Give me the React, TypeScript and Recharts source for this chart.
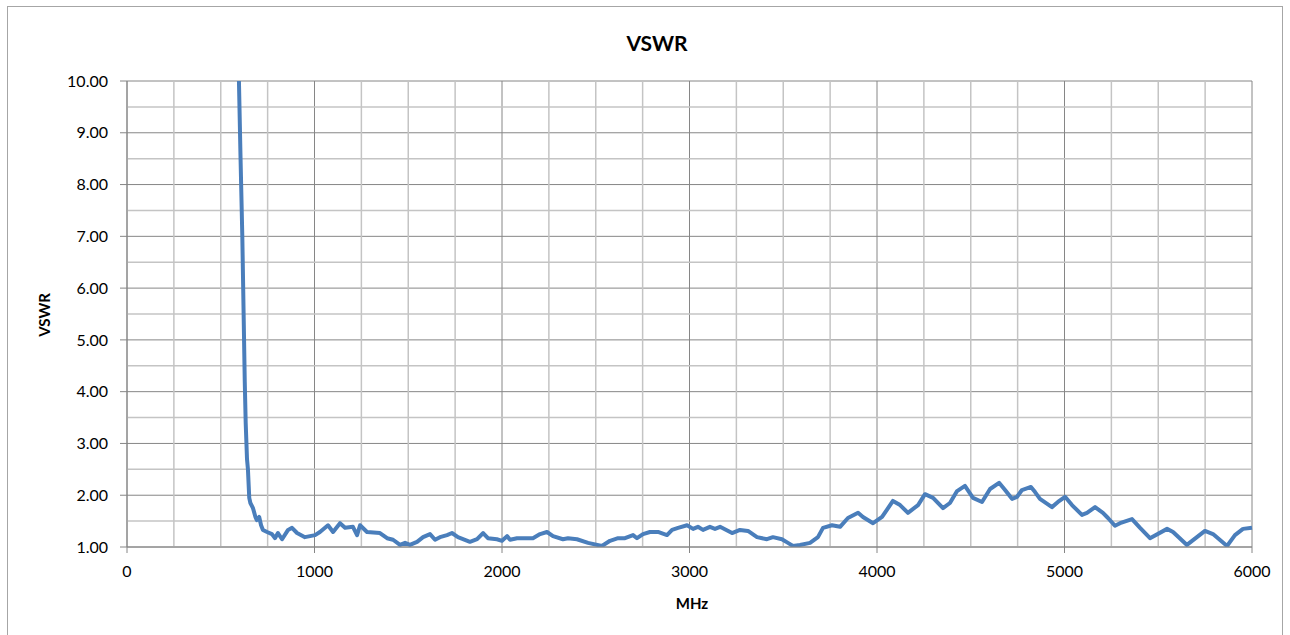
import React from 'react';
import { LineChart, Line, XAxis, YAxis, CartesianGrid, ReferenceLine } from 'recharts';

const freqMHz = [597, 605, 615, 622, 628, 633, 640, 645, 652, 658, 672, 685, 692, 705, 715, 725, 747, 773, 789, 805, 827, 859, 880, 907, 949, 1003, 1029, 1072, 1099, 1136, 1163, 1205, 1227, 1243, 1280, 1349, 1387, 1419, 1456, 1483, 1509, 1547, 1579, 1616, 1643, 1669, 1707, 1733, 1765, 1829, 1867, 1899, 1925, 1973, 2000, 2027, 2043, 2080, 2165, 2203, 2240, 2272, 2325, 2352, 2400, 2459, 2533, 2576, 2619, 2656, 2699, 2720, 2752, 2789, 2832, 2880, 2907, 2939, 2987, 3019, 3045, 3072, 3109, 3136, 3163, 3227, 3269, 3312, 3360, 3413, 3445, 3493, 3525, 3552, 3589, 3643, 3685, 3712, 3760, 3803, 3845, 3899, 3925, 3979, 4027, 4085, 4123, 4165, 4219, 4256, 4299, 4352, 4389, 4427, 4469, 4512, 4560, 4603, 4651, 4683, 4720, 4747, 4773, 4821, 4843, 4869, 4933, 4965, 5003, 5040, 5093, 5120, 5163, 5205, 5232, 5269, 5296, 5360, 5403, 5456, 5547, 5579, 5653, 5749, 5792, 5867, 5909, 5952, 6000];

const vswr = [10.0, 8.6, 7.0, 5.5, 4.2, 3.4, 2.7, 2.5, 1.95, 1.85, 1.75, 1.58, 1.52, 1.58, 1.42, 1.33, 1.29, 1.25, 1.17, 1.27, 1.15, 1.33, 1.37, 1.27, 1.19, 1.23, 1.29, 1.42, 1.29, 1.46, 1.37, 1.39, 1.23, 1.42, 1.29, 1.27, 1.17, 1.14, 1.04, 1.08, 1.04, 1.1, 1.19, 1.25, 1.14, 1.19, 1.23, 1.27, 1.19, 1.1, 1.15, 1.27, 1.17, 1.15, 1.12, 1.21, 1.14, 1.17, 1.17, 1.25, 1.29, 1.21, 1.15, 1.17, 1.15, 1.08, 1.02, 1.12, 1.17, 1.17, 1.23, 1.17, 1.25, 1.29, 1.29, 1.23, 1.33, 1.37, 1.42, 1.35, 1.39, 1.33, 1.39, 1.35, 1.39, 1.27, 1.33, 1.31, 1.19, 1.15, 1.19, 1.15, 1.08, 1.02, 1.04, 1.08, 1.19, 1.37, 1.42, 1.39, 1.56, 1.66, 1.58, 1.46, 1.58, 1.89, 1.81, 1.66, 1.81, 2.02, 1.95, 1.75, 1.85, 2.08, 2.18, 1.95, 1.87, 2.12, 2.24, 2.1, 1.93, 1.97, 2.1, 2.16, 2.06, 1.93, 1.77, 1.87, 1.97, 1.81, 1.62, 1.66, 1.77, 1.66, 1.56, 1.41, 1.46, 1.54, 1.37, 1.17, 1.35, 1.29, 1.04, 1.31, 1.25, 1.02, 1.23, 1.35, 1.37];

const xTicks = [0, 1000, 2000, 3000, 4000, 5000, 6000];
const xMinorTicks = [250, 500, 750, 1250, 1500, 1750, 2250, 2500, 2750, 3250, 3500, 3750, 4250, 4500, 4750, 5250, 5500, 5750];
const yTicks = [1, 2, 3, 4, 5, 6, 7, 8, 9, 10];
const yMinorTicks = [1.5, 2.5, 3.5, 4.5, 5.5, 6.5, 7.5, 8.5, 9.5];

const data = freqMHz.map((f, i) => ({ f, v: vswr[i] }));

const FONT = 'Lato, "Open Sans", sans-serif';
const MAJOR = '#868686';
const MINOR = '#c4c4c4';

export default function App() {
  return (
    <div style={{ position: 'absolute', left: 0, top: 0, width: 1290, height: 635, fontFamily: FONT }}>
      <div style={{ position: 'absolute', left: 7, top: 6, width: 1276, height: 640, border: '1px solid #a6a6a6', boxSizing: 'border-box' }} />
      <div style={{ position: 'absolute', left: 0, top: 30, width: 1314, textAlign: 'center', fontSize: 21, fontWeight: 'bold', color: '#000' }}>VSWR</div>
      <div style={{ position: 'absolute', left: 0, top: 594, width: 1384, textAlign: 'center', fontSize: 15, fontWeight: 'bold', color: '#000' }}>MHz</div>
      <div style={{ position: 'absolute', left: 44, top: 315, transform: 'translate(-50%, -50%) rotate(-90deg)', fontSize: 15, fontWeight: 'bold', color: '#000', whiteSpace: 'nowrap' }}>VSWR</div>
      <div style={{ position: 'absolute', left: 0, top: 0 }}>
        <LineChart width={1290} height={635} data={data} margin={{ top: 81, right: 38, bottom: 58, left: 67 }}>
          {xMinorTicks.map((t) => (
            <ReferenceLine key={'xm' + t} x={t} stroke={MINOR} strokeWidth={1.5} ifOverflow="hidden" />
          ))}
          {yMinorTicks.map((t) => (
            <ReferenceLine key={'ym' + t} y={t} stroke={MINOR} strokeWidth={1.5} ifOverflow="hidden" />
          ))}
          <CartesianGrid stroke={MAJOR} strokeWidth={1} />
          <XAxis
            dataKey="f"
            type="number"
            domain={[0, 6000]}
            ticks={xTicks}
            height={30}
            tickSize={6}
            tickMargin={13}
            stroke={MAJOR}
            tick={{ fill: '#000', fontSize: 16, fontFamily: FONT }}
            interval={0}
          />
          <YAxis
            type="number"
            domain={[1, 10]}
            ticks={yTicks}
            width={60}
            tickSize={7}
            tickMargin={12}
            allowDataOverflow
            stroke={MAJOR}
            tickFormatter={(v: number) => v.toFixed(2)}
            tick={{ fill: '#000', fontSize: 16, fontFamily: FONT }}
            interval={0}
          />
          <Line
            type="linear"
            dataKey="v"
            stroke="#4A7EBB"
            strokeWidth={4}
            dot={false}
            isAnimationActive={false}
            strokeLinejoin="round"
          />
        </LineChart>
      </div>
    </div>
  );
}
